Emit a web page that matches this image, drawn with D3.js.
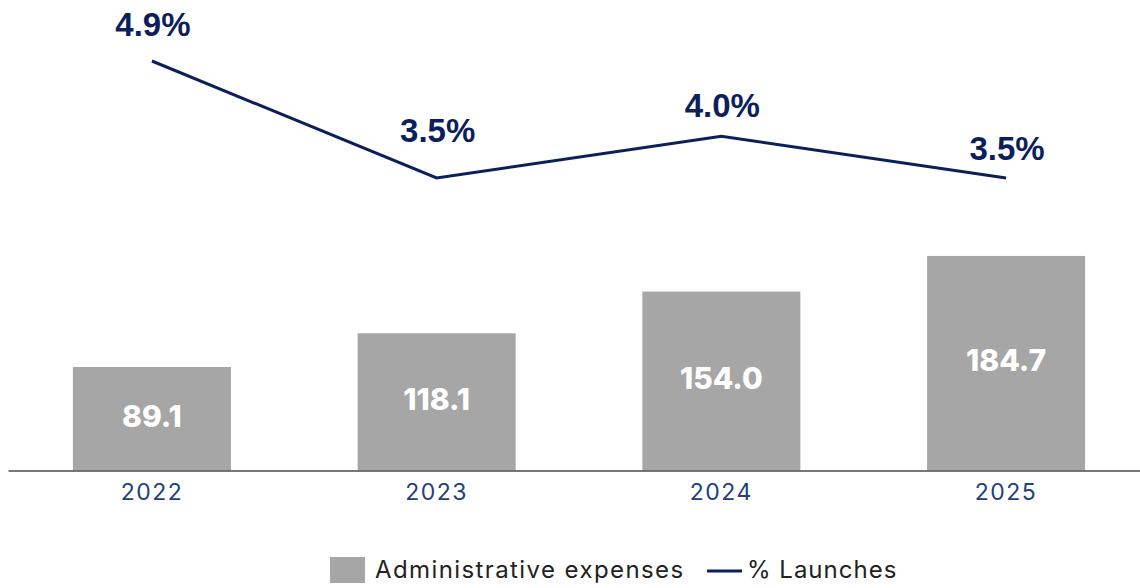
<!DOCTYPE html>
<html>
<head>
<meta charset="utf-8">
<script src="https://cdn.jsdelivr.net/npm/d3@7"></script>
<style>
  html, body { margin: 0; padding: 0; background: #ffffff; }
  svg { display: block; }
</style>
</head>
<body>
<svg id="chart" width="1140" height="588"></svg>
<script>
// Data
const years = ["2022", "2023", "2024", "2025"];
const adminExpenses = [89.1, 118.1, 154.0, 184.7];
const launchesPct = [4.9, 3.5, 4.0, 3.5];
const seriesNames = ["Administrative expenses", "% Launches"];

// Layout
const W = 1140, H = 588;
const baseY = 470.5;
const pctLabelGap = [25, 36, 19, 18];
const barColor = "#a6a6a6";
const navy = "#0c1f5c";
const tickColor = "#22407e";
const sansFont = "Inter, 'Noto Sans', sans-serif";

const svg = d3.select("#chart");

const x = d3.scaleBand()
  .domain(years)
  .range([8, 1150])
  .paddingInner(0.445)
  .paddingOuter(0.228);

const yBar = d3.scaleLinear().domain([0, 405]).range([baseY, 0]);
const yLine = d3.scaleLinear().domain([0, 5.63]).range([baseY, 0]);

const rows = years.map((yr, i) => ({ yr, bar: adminExpenses[i], pct: launchesPct[i], i }));

// Bars
svg.append("g").selectAll("rect")
  .data(rows)
  .join("rect")
  .attr("x", d => x(d.yr))
  .attr("y", d => yBar(d.bar))
  .attr("width", x.bandwidth())
  .attr("height", d => baseY - yBar(d.bar))
  .attr("fill", barColor);

// Bar value labels
svg.append("g").selectAll("text")
  .data(rows)
  .join("text")
  .attr("x", d => x(d.yr) + x.bandwidth() / 2)
  .attr("y", d => (yBar(d.bar) + baseY) / 2 + 8)
  .attr("text-anchor", "middle")
  .attr("fill", "#ffffff")
  .style("font-family", sansFont)
  .style("font-weight", 800)
  .style("font-size", "30px")
  .text(d => d.bar.toFixed(1));

// X axis
const xAxis = svg.append("g")
  .attr("transform", `translate(0,${baseY})`)
  .call(d3.axisBottom(x).tickSize(0).tickPadding(0));
xAxis.select(".domain").attr("stroke", "#4a4a4a").attr("stroke-width", 1.5);
xAxis.selectAll(".tick text")
  .attr("y", 29.5)
  .attr("dy", null)
  .attr("fill", tickColor)
  .style("font-family", sansFont)
  .style("font-size", "23px")
  .style("letter-spacing", "1.5px");

// Launches line
const line = d3.line()
  .x(d => x(d.yr) + x.bandwidth() / 2)
  .y(d => yLine(d.pct));

svg.append("path")
  .datum(rows)
  .attr("d", line)
  .attr("fill", "none")
  .attr("stroke", navy)
  .attr("stroke-width", 3);

// Percent labels
svg.append("g").selectAll("text")
  .data(rows)
  .join("text")
  .attr("x", d => x(d.yr) + x.bandwidth() / 2 + 1)
  .attr("y", d => yLine(d.pct) - pctLabelGap[d.i])
  .attr("text-anchor", "middle")
  .attr("fill", navy)
  .style("font-family", "'Liberation Sans', Arial, sans-serif")
  .style("font-weight", 700)
  .style("font-size", "33px")
  .text(d => d.pct.toFixed(1) + "%");

// Legend
const legend = svg.append("g");
legend.append("rect")
  .attr("x", 330).attr("y", 557)
  .attr("width", 35).attr("height", 26)
  .attr("fill", barColor);
legend.append("text")
  .attr("x", 375).attr("y", 577.5)
  .attr("fill", "#222222")
  .style("font-family", sansFont)
  .style("font-size", "24px")
  .style("letter-spacing", "1.4px")
  .text(seriesNames[0]);
legend.append("line")
  .attr("x1", 707).attr("x2", 742)
  .attr("y1", 571).attr("y2", 571)
  .attr("stroke", navy)
  .attr("stroke-width", 3);
legend.append("text")
  .attr("x", 747).attr("y", 577.5)
  .attr("fill", "#222222")
  .style("font-family", sansFont)
  .style("font-size", "24px")
  .style("letter-spacing", "1px")
  .text(seriesNames[1]);
</script>
</body>
</html>
